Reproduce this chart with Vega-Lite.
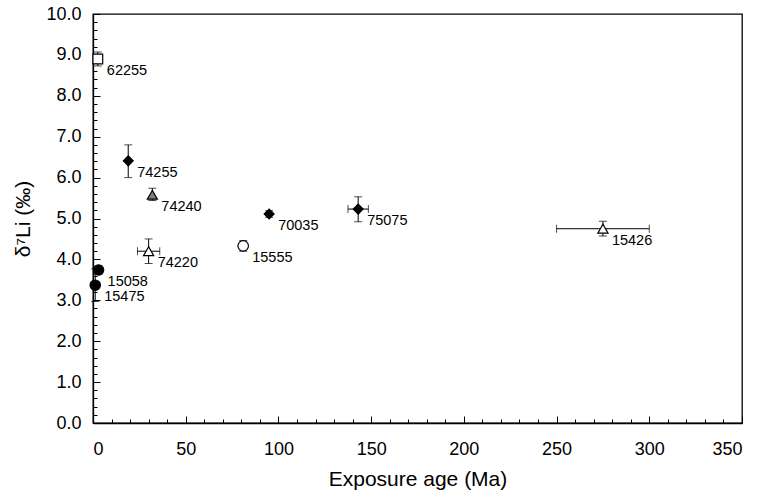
{
  "$schema": "https://vega.github.io/schema/vega-lite/v6.json",
  "width": 649,
  "height": 409,
  "autosize": "none",
  "padding": {"left": 93, "top": 14, "right": 17, "bottom": 71},
  "config": {
    "font": "Liberation Sans",
    "view": {"stroke": "black", "strokeWidth": 1.3},
    "axis": {
      "grid": false,
      "domainColor": "black",
      "domainWidth": 1.3,
      "tickColor": "black",
      "tickWidth": 1,
      "labelColor": "black",
      "titleColor": "black",
      "labelFontSize": 18,
      "titleFontSize": 21,
      "titleFontWeight": "normal",
      "labelOverlap": false
    }
  },
  "data": {
    "values": [
      {"sample": "62255", "group": "A", "age": 2.6, "d7Li": 8.9, "yLo": 8.73, "yHi": 9.07, "xLo": null, "xHi": null},
      {"sample": "74255", "group": "B", "age": 19, "d7Li": 6.41, "yLo": 6.0, "yHi": 6.8, "xLo": null, "xHi": null},
      {"sample": "74240", "group": "C", "age": 32, "d7Li": 5.58, "yLo": 5.44, "yHi": 5.74, "xLo": null, "xHi": null},
      {"sample": "74220", "group": "D", "age": 30, "d7Li": 4.2, "yLo": 3.9, "yHi": 4.5, "xLo": 24, "xHi": 36},
      {"sample": "15058", "group": "E", "age": 3, "d7Li": 3.74, "yLo": 3.64, "yHi": 3.84, "xLo": null, "xHi": null},
      {"sample": "15475", "group": "E", "age": 1.2, "d7Li": 3.37, "yLo": 2.97, "yHi": 3.77, "xLo": null, "xHi": null},
      {"sample": "15555", "group": "F", "age": 81, "d7Li": 4.33, "yLo": 4.2, "yHi": 4.46, "xLo": null, "xHi": null},
      {"sample": "70035", "group": "B", "age": 95, "d7Li": 5.11, "yLo": 5.03, "yHi": 5.19, "xLo": null, "xHi": null},
      {"sample": "75075", "group": "B", "age": 143, "d7Li": 5.23, "yLo": 4.92, "yHi": 5.53, "xLo": 137.5, "xHi": 148.5},
      {"sample": "15426", "group": "D", "age": 275, "d7Li": 4.75, "yLo": 4.57, "yHi": 4.93, "xLo": 250, "xHi": 300}
    ]
  },
  "encoding": {
    "x": {
      "field": "age", "type": "quantitative",
      "scale": {"domain": [0, 350], "nice": false},
      "title": "Exposure age (Ma)",
      "axis": {
        "values": [0,10,20,30,40,50,60,70,80,90,100,110,120,130,140,150,160,170,180,190,200,210,220,230,240,250,260,270,280,290,300,310,320,330,340,350],
        "labelExpr": "datum.value % 50 === 0 ? datum.label : ''",
        "tickSize": {"condition": {"test": "datum.value % 50 === 0", "value": -7}, "value": -4},
        "labelPadding": 24,
        "titlePadding": 7
      }
    },
    "y": {
      "field": "d7Li", "type": "quantitative",
      "scale": {"domain": [0, 10], "nice": false},
      "title": "δ⁷Li (‰)",
      "axis": {
        "values": [0,0.2,0.4,0.6,0.8,1,1.2,1.4,1.6,1.8,2,2.2,2.4,2.6,2.8,3,3.2,3.4,3.6,3.8,4,4.2,4.4,4.6,4.8,5,5.2,5.4,5.6,5.8,6,6.2,6.4,6.6,6.8,7,7.2,7.4,7.6,7.8,8,8.2,8.4,8.6,8.8,9,9.2,9.4,9.6,9.8,10],
        "format": ".1f",
        "labelExpr": "abs(datum.value - round(datum.value)) < 0.001 ? datum.label : ''",
        "tickSize": {"condition": {"test": "abs(datum.value - round(datum.value)) < 0.001", "value": -7}, "value": -4},
        "labelPadding": 19,
        "titlePadding": 12
      }
    }
  },
  "layer": [
    {
      "mark": {"type": "rule", "color": "black", "strokeWidth": 1},
      "encoding": {
        "y": {"field": "yLo", "type": "quantitative"},
        "y2": {"field": "yHi"}
      }
    },
    {
      "mark": {"type": "tick", "orient": "horizontal", "color": "black", "size": 8, "thickness": 1},
      "encoding": {
        "y": {"field": "yLo", "type": "quantitative"}
      }
    },
    {
      "mark": {"type": "tick", "orient": "horizontal", "color": "black", "size": 8, "thickness": 1},
      "encoding": {
        "y": {"field": "yHi", "type": "quantitative"}
      }
    },
    {
      "transform": [{"filter": "datum.xLo != null"}],
      "mark": {"type": "rule", "color": "black", "strokeWidth": 1},
      "encoding": {
        "x": {"field": "xLo", "type": "quantitative"},
        "x2": {"field": "xHi"}
      }
    },
    {
      "transform": [{"filter": "datum.xLo != null"}],
      "mark": {"type": "tick", "orient": "vertical", "color": "black", "size": 8, "thickness": 1},
      "encoding": {
        "x": {"field": "xLo", "type": "quantitative"}
      }
    },
    {
      "transform": [{"filter": "datum.xLo != null"}],
      "mark": {"type": "tick", "orient": "vertical", "color": "black", "size": 8, "thickness": 1},
      "encoding": {
        "x": {"field": "xHi", "type": "quantitative"}
      }
    },
    {
      "mark": {"type": "point", "filled": true, "opacity": 1, "stroke": "black", "strokeWidth": 1.2},
      "encoding": {
        "shape": {"field": "group", "type": "nominal", "legend": null,
          "scale": {"domain": ["A","B","C","D","E","F"], "range": ["square","diamond","triangle-up","triangle-up","circle","circle"]}},
        "fill": {"field": "group", "type": "nominal", "legend": null,
          "scale": {"domain": ["A","B","C","D","E","F"], "range": ["white","black","#7f7f7f","white","black","white"]}},
        "size": {"field": "group", "type": "nominal", "legend": null,
          "scale": {"domain": ["A","B","C","D","E","F"], "range": [95, 110, 100, 100, 80, 70]}}
      }
    },
    {
      "mark": {"type": "text", "align": "left", "baseline": "middle", "dx": 9, "dy": 12, "fontSize": 14.5, "color": "black"},
      "encoding": {
        "text": {"field": "sample"}
      }
    }
  ]
}
